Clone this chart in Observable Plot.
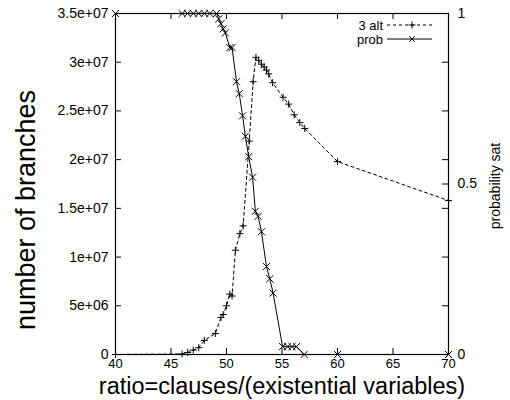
<!DOCTYPE html>
<html>
<head>
<meta charset="utf-8">
<script src="https://cdn.jsdelivr.net/npm/d3@7"></script>
<script src="https://cdn.jsdelivr.net/npm/@observablehq/plot@0.6"></script>
<style>
  html, body { margin: 0; padding: 0; background: #fff; }
  #wrap { position: relative; width: 510px; height: 400px; }
  #wrap svg { position: absolute; left: 0; top: 0; }
</style>
</head>
<body>
<div id="wrap"></div>
<script>
// ---- data ----
const altX = [40, 46, 46.5, 47, 47.5, 48, 49, 49.5, 49.7, 50, 50.3, 50.5, 50.8, 51.2, 51.5, 52.05, 52.4, 52.65, 52.9, 53.15, 53.4, 53.6, 53.8, 54.15, 55.1, 55.6, 56.1, 56.6, 57.05, 60, 70];
const altV = [0, 5e4, 2e5, 4.5e5, 7e5, 1.45e6, 2.15e6, 3.8e6, 4.1e6, 5.0e6, 6.2e6, 6.0e6, 1.07e7, 1.24e7, 1.32e7, 2.19e7, 2.80e7, 3.05e7, 3.02e7, 2.98e7, 2.95e7, 2.92e7, 2.88e7, 2.79e7, 2.64e7, 2.57e7, 2.46e7, 2.38e7, 2.32e7, 1.98e7, 1.58e7];
const probX = [40, 46, 46.5, 47, 47.5, 48, 48.5, 49.1, 49.3, 49.5, 49.7, 49.9, 50.3, 50.5, 50.9, 51.15, 51.45, 51.7, 52.0, 52.35, 52.6, 52.85, 53.15, 53.6, 53.9, 54.2, 55.05, 55.5, 55.9, 56.3, 57, 60, 70];
const probP = [1, 1, 1, 1, 1, 1, 1, 1, 0.984, 0.97, 0.955, 0.943, 0.90, 0.90, 0.80, 0.765, 0.70, 0.64, 0.58, 0.52, 0.42, 0.405, 0.36, 0.258, 0.222, 0.18, 0.023, 0.023, 0.023, 0.023, 0, 0, 0];

const xTicks = [40, 45, 50, 55, 60, 65, 70];
const yTicks = [0, 5e6, 1e7, 1.5e7, 2e7, 2.5e7, 3e7, 3.5e7];
const yTickLabels = ["0", "5e+06", "1e+07", "1.5e+07", "2e+07", "2.5e+07", "3e+07", "3.5e+07"];
const y2Ticks = [0, 0.5, 1];
const y2TickLabels = ["0", "0.5", "1"];
const seriesNames = ["3 alt", "prob"];
const xLabel = "ratio=clauses/(existential variables)";
const yLabel = "number of branches";
const y2Label = "probability sat";

// ---- build ----
const YMAX = 3.5e7;
const alt = altX.map((x, i) => ({x, v: altV[i]}));
const prob = probX.map((x, i) => ({x, p: probP[i]}));
const font = "'Liberation Sans', Arial, Helvetica, sans-serif";

const W = 510, H = 400, mL = 115, mR = 62, mT = 13, mB = 46;
const fw = W - mL - mR, fh = H - mT - mB, tk = 6;

const chart = Plot.plot({
  width: W, height: H,
  marginLeft: mL, marginRight: mR, marginTop: mT, marginBottom: mB,
  style: {fontFamily: font, background: "white", color: "black", overflow: "visible"},
  x: {domain: [40, 70]},
  y: {domain: [0, YMAX]},
  marks: [
    // tick marks (inward, mirrored)
    Plot.tickY(yTicks, {insetRight: fw - tk, stroke: "black"}),
    Plot.tickY(yTicks, {insetLeft: fw - tk, stroke: "black"}),
    Plot.tickY(y2Ticks.map(t => t * YMAX), {insetLeft: fw - tk, stroke: "black"}),
    Plot.tickX(xTicks, {insetTop: fh - tk, stroke: "black"}),
    Plot.tickX(xTicks, {insetBottom: fh - tk, stroke: "black"}),
    // tick labels
    Plot.axisY(yTicks, {anchor: "left", tickSize: 0, tickPadding: 7, fontSize: 14, label: null,
      tickFormat: (d, i) => yTickLabels[yTicks.indexOf(d)]}),
    Plot.axisY(y2Ticks.map(t => t * YMAX), {anchor: "right", tickSize: 0, tickPadding: 9, fontSize: 14, label: null,
      tickFormat: d => y2TickLabels[y2Ticks.indexOf(d / YMAX)]}),
    Plot.axisX(xTicks, {anchor: "bottom", tickSize: 0, tickPadding: 4, fontSize: 13, label: null,
      tickFormat: d => String(d)}),
    // axis titles
    Plot.text([xLabel], {frameAnchor: "bottom", dy: 32, lineAnchor: "middle", textAnchor: "middle", fontSize: 23.5, text: d => d, fill: "black"}),
    Plot.text([yLabel], {frameAnchor: "left", dx: -89, dy: 26, rotate: -90, lineAnchor: "middle", textAnchor: "middle", fontSize: 27, text: d => d, fill: "black"}),
    Plot.text([y2Label], {frameAnchor: "right", dx: 47, dy: 2, rotate: -90, lineAnchor: "middle", textAnchor: "middle", fontSize: 14, text: d => d, fill: "black"}),
    // series
    Plot.line(alt, {x: "x", y: "v", stroke: "black", strokeWidth: 1, strokeDasharray: "3,3"}),
    Plot.dot(alt, {x: "x", y: "v", symbol: "plus", r: 2.4, stroke: "black", strokeWidth: 1}),
    Plot.line(prob, {x: "x", y: d => d.p * YMAX, stroke: "black", strokeWidth: 1}),
    Plot.dot(prob, {x: "x", y: d => d.p * YMAX, symbol: "times", r: 3.3, stroke: "black", strokeWidth: 1}),
    Plot.frame({stroke: "black", strokeWidth: 1.2})
  ]
});

const wrap = document.getElementById("wrap");
wrap.appendChild(chart);

// ---- legend overlay ----
const ns = "http://www.w3.org/2000/svg";
const leg = document.createElementNS(ns, "svg");
leg.setAttribute("width", W); leg.setAttribute("height", H);
leg.style.pointerEvents = "none";
const kx = 383, ky = [25, 39], lx0 = 387, lx1 = 432, mx = 412;
seriesNames.forEach((name, i) => {
  const t = document.createElementNS(ns, "text");
  t.setAttribute("x", kx); t.setAttribute("y", ky[i]);
  t.setAttribute("text-anchor", "end"); t.setAttribute("dominant-baseline", "central");
  t.setAttribute("font-family", font); t.setAttribute("font-size", 13);
  t.textContent = name;
  leg.appendChild(t);
  const l = document.createElementNS(ns, "line");
  l.setAttribute("x1", lx0); l.setAttribute("x2", lx1);
  l.setAttribute("y1", ky[i]); l.setAttribute("y2", ky[i]);
  l.setAttribute("stroke", "black");
  if (i === 0) l.setAttribute("stroke-dasharray", "3,3");
  leg.appendChild(l);
  const p = document.createElementNS(ns, "path");
  const s = 3.5;
  p.setAttribute("d", i === 0
    ? `M${mx - s},${ky[i]}H${mx + s}M${mx},${ky[i] - s}V${ky[i] + s}`
    : `M${mx - s * 0.8},${ky[i] - s * 0.8}L${mx + s * 0.8},${ky[i] + s * 0.8}M${mx - s * 0.8},${ky[i] + s * 0.8}L${mx + s * 0.8},${ky[i] - s * 0.8}`);
  p.setAttribute("stroke", "black"); p.setAttribute("fill", "none");
  leg.appendChild(p);
});
wrap.appendChild(leg);
</script>
</body>
</html>
